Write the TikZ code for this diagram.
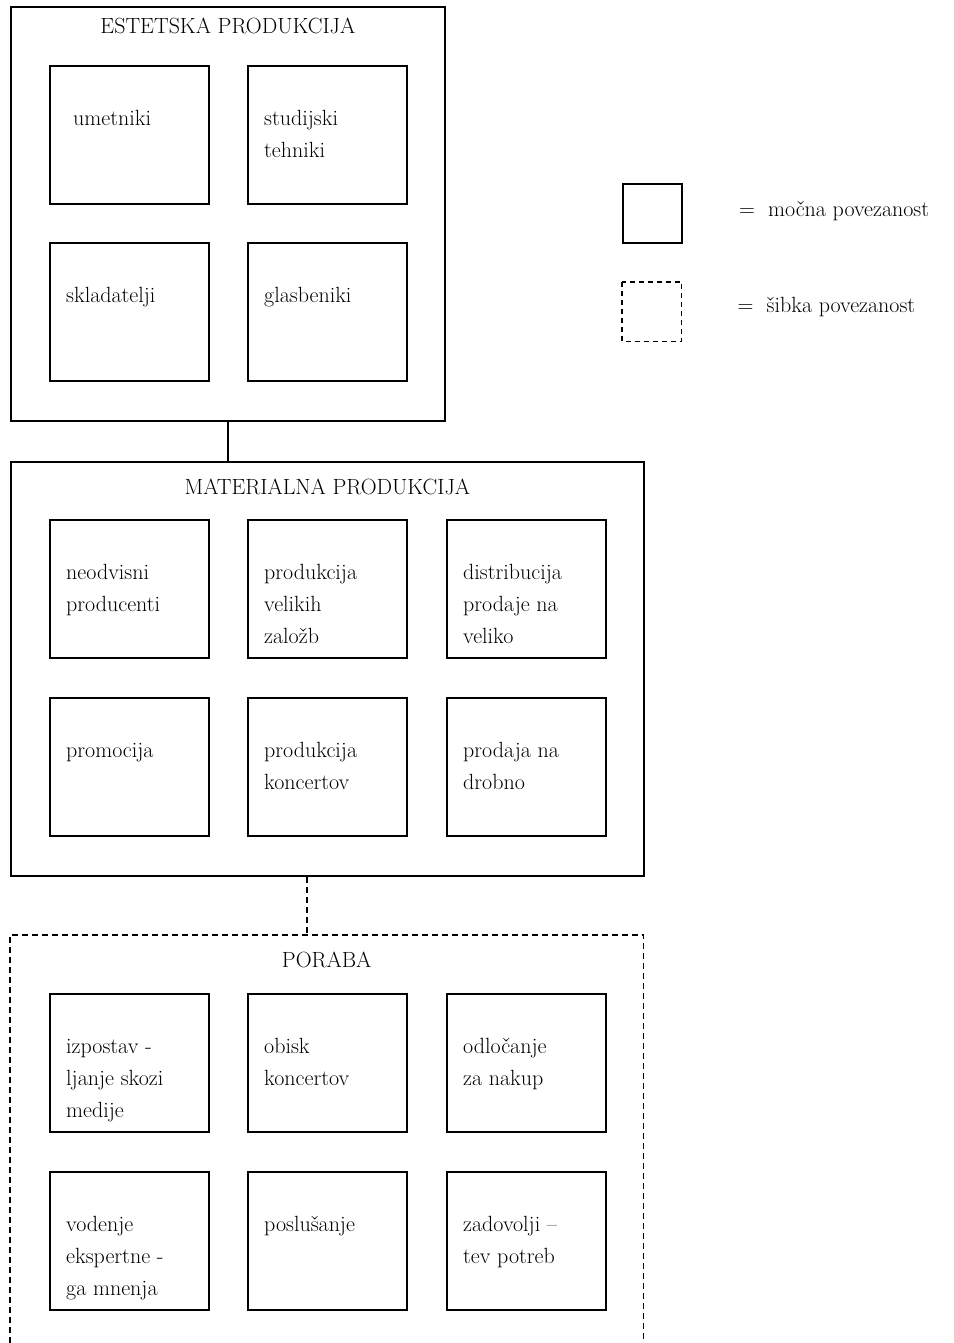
\documentclass[tikz,border=0pt]{standalone}
\usepackage{fontspec}
\setmainfont{Latin Modern Roman}
\newcommand\mkcell[5][17]{%
  \node[cell] (#2) at (#3,#4) {};
  \node[lbl] (#2t) at ([shift={(#1,-45)}]#2.north west) {\vphantom{Ag}#5};
}
\begin{document}
\begin{tikzpicture}[x=1pt,y=1pt,
  strong/.style={draw, line width=1.8pt},
  weak/.style={line width=1.6pt, dash pattern=on 6pt off 4pt},
  cell/.style={strong, minimum width=159pt, minimum height=138pt, anchor=north west, inner sep=0pt},
  frame/.style={minimum width=#1, anchor=north west, inner sep=0pt},
  lbl/.style={anchor=north west, inner sep=0pt, align=left, font=\fontsize{22}{32}\selectfont},
  ttl/.style={anchor=base, inner sep=0pt, font=\fontsize{22}{26}\selectfont}]
\useasboundingbox[fill=white] (0,0) rectangle (953,-1343);

% containers
\node[strong, frame=434pt, minimum height=414pt] (b1) at (10,-6) {};
\node[strong, frame=633pt, minimum height=414pt] (b2) at (10,-461) {};
\node[frame=633pt, minimum height=408pt] (b3) at (10,-935) {};
\draw[weak] (b3.south west) -- (b3.north west) -- (b3.north east) -- (b3.south east);

% titles
\node[ttl] (t1) at ([yshift=-28pt]b1.north) {ESTETSKA PRODUKCIJA};
\node[ttl] (t2) at ([yshift=-33pt]b2.north) {MATERIALNA PRODUKCIJA};
\node[ttl] (t3) at ([yshift=-32pt]b3.north) {PORABA};

% connectors
\coordinate (cx) at (307,0);
\draw[line width=1.8pt] (b1.south -| 228,0) -- (b2.north -| 228,0);
\draw[weak] (b2.south -| cx) -- (b3.north -| cx);

% ESTETSKA PRODUKCIJA
\mkcell[24]{e11}{49}{-65}{umetniki}
\mkcell{e12}{247}{-65}{studijski\\tehniki}
\mkcell{e21}{49}{-242}{skladatelji}
\mkcell{e22}{247}{-242}{glasbeniki}

% MATERIALNA PRODUKCIJA
\mkcell{m11}{49}{-519}{neodvisni\\producenti}
\mkcell{m12}{247}{-519}{produkcija\\velikih\\založb}
\mkcell{m13}{446}{-519}{distribucija\\prodaje na\\veliko}
\mkcell{m21}{49}{-697}{promocija}
\mkcell{m22}{247}{-697}{produkcija\\koncertov}
\mkcell{m23}{446}{-697}{prodaja na\\drobno}

% PORABA
\mkcell{p11}{49}{-993}{izpostav -\\ljanje skozi\\medije}
\mkcell{p12}{247}{-993}{obisk\\koncertov}
\mkcell{p13}{446}{-993}{odločanje\\za nakup}
\mkcell{p21}{49}{-1171}{vodenje\\ekspertne -\\ga mnenja}
\mkcell{p22}{247}{-1171}{poslušanje}
\mkcell{p23}{446}{-1171}{zadovolji –\\tev potreb}

% legend
\node[strong, minimum width=59pt, minimum height=59pt, anchor=north west, inner sep=0pt] (lg1) at (622,-183) {};
\node[minimum width=59pt, minimum height=59pt, anchor=north west, inner sep=0pt] (lg2) at (622,-282) {};
\draw[weak, dash pattern=on 5pt off 4pt] (lg2.north west) rectangle (lg2.south east);
\node[anchor=base west, inner sep=0pt, font=\fontsize{22}{26}\selectfont] (lt1) at ([shift={(56,-33)}]lg1.north east) {=\ \ močna povezanost};
\node[anchor=base west, inner sep=0pt, font=\fontsize{22}{26}\selectfont] (lt2) at ([shift={(56,-30)}]lg2.north east) {=\ \ šibka povezanost};
\end{tikzpicture}
\end{document}
